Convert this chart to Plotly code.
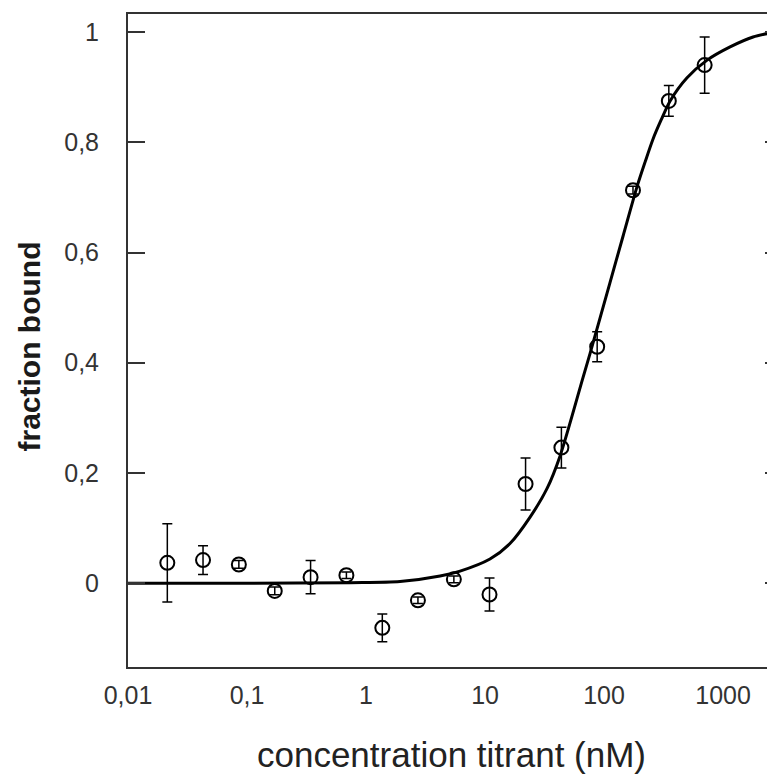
import plotly.graph_objects as go

# measured data (titration, 2-fold dilution series)
conc_nM = [0.0214, 0.0427, 0.0854, 0.171, 0.342, 0.684, 1.37, 2.73, 5.47, 10.9,
           21.9, 43.8, 87.5, 175, 350, 700]
fraction = [0.037, 0.042, 0.034, -0.014, 0.011, 0.0145, -0.081, -0.031, 0.007, -0.0205,
            0.180, 0.246, 0.429, 0.713, 0.875, 0.940]
err = [0.071, 0.026, 0.007, 0.007, 0.030, 0.006, 0.025, 0.006, 0.006, 0.030,
       0.047, 0.037, 0.027, 0.007, 0.028, 0.051]

# fitted curve
fit_x = [0.01, 0.106, 0.735, 1.93, 4.19, 6.17, 11.0, 16.2, 23.9, 33.2, 42.7, 66.7,
         76.3, 112, 144.5, 189, 221, 258, 301, 359, 498, 734, 1145, 1786, 2735]
fit_y = [0.0, 0.0, 0.001, 0.003, 0.013, 0.022, 0.044, 0.072, 0.120, 0.172, 0.231, 0.374,
         0.417, 0.545, 0.630, 0.719, 0.764, 0.806, 0.840, 0.875, 0.917, 0.949, 0.973, 0.991, 1.0]

x_tickvals = [0.01, 0.1, 1, 10, 100, 1000]
x_ticktext = ["0,01", "0,1", "1", "10", "100", "1000"]
y_tickvals = [0, 0.2, 0.4, 0.6, 0.8, 1]
y_ticktext = ["0", "0,2", "0,4", "0,6", "0,8", "1"]

FONT = "Liberation Sans, Arial, sans-serif"
YR = [-0.152, 1.0327]

fig = go.Figure()
fig.add_trace(go.Scatter(
    x=fit_x, y=fit_y, mode="lines", yaxis="y2",
    line=dict(color="black", width=3, shape="spline", smoothing=0.8),
    hoverinfo="skip", showlegend=False))
fig.add_trace(go.Scatter(
    x=conc_nM, y=fraction, mode="markers",
    marker=dict(symbol="circle-open", size=14, color="black", line=dict(width=2)),
    error_y=dict(type="data", array=err, visible=True, color="black", thickness=1.5, width=5),
    showlegend=False))

# page body has an 8px default margin, so the figure is offset by 8px
fig.update_layout(
    width=767, height=771,
    margin=dict(l=120, r=0, t=6, b=112),
    paper_bgcolor="white", plot_bgcolor="white",
    font=dict(family=FONT, color="#333"),
    xaxis=dict(
        type="log", range=[-2, 3.4362],
        showgrid=False, zeroline=False,
        showline=True, mirror=True, linecolor="#333", linewidth=2,
        ticks="", tickmode="array", tickvals=x_tickvals, ticktext=x_ticktext,
        tickfont=dict(size=25, color="#333"), ticklabelstandoff=5,
        title=dict(text="concentration titrant (nM)", font=dict(size=35, color="#222"), standoff=34),
    ),
    yaxis=dict(
        range=YR, showgrid=False, zeroline=False,
        showline=True, linecolor="#333", linewidth=2,
        ticks="inside", ticklen=17, tickwidth=2, tickcolor="#333",
        tickmode="array", tickvals=y_tickvals, ticktext=y_ticktext,
        tickfont=dict(size=25, color="#333"), ticklabelstandoff=22,
    ),
    yaxis2=dict(
        range=YR, overlaying="y", side="right", showgrid=False, zeroline=False,
        showline=False, ticks="inside", ticklen=10, tickwidth=2, tickcolor="#333",
        tickmode="array", tickvals=y_tickvals, showticklabels=False,
    ),
    annotations=[dict(
        text="fraction bound", textangle=-90, showarrow=False,
        xref="paper", yref="paper", x=0, y=0.5, xanchor="center", yanchor="middle",
        xshift=-99, yshift=-6,
        font=dict(size=30, color="#1a1a1a", family=FONT, weight="bold"),
    )],
)

fig.write_html("out.html")
